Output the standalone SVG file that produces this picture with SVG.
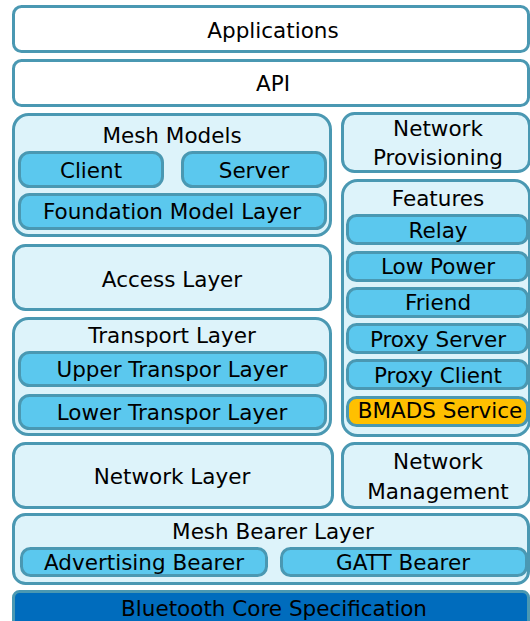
<svg xmlns="http://www.w3.org/2000/svg" width="530" height="621" viewBox="0 0 530 621">
<style>
.top{fill:#ffffff;stroke:#4a98b2;stroke-width:3}
.outer{fill:#ddf3fa;stroke:#4a98b2;stroke-width:3}
.inner{fill:#5bc8ee;stroke:#4a98b2;stroke-width:3}
.bmads{fill:#ffc000;stroke:#4a98b2;stroke-width:3}
.core{fill:#006cbd;stroke:#4a98b2;stroke-width:3}
text{font-family:"DejaVu Sans","Liberation Sans",sans-serif;font-size:21.5px;fill:#000;text-anchor:middle}
</style>
<rect width="530" height="621" fill="#ffffff"/>
<g id="applications"><rect class="top" x="13.5" y="6.5" width="515" height="45" rx="8"/><text x="273" y="38">Applications</text></g>
<g id="api"><rect class="top" x="13.5" y="60.5" width="515" height="45" rx="8"/><text x="273" y="91">API</text></g>
<g id="mesh-models"><rect class="outer" x="13.5" y="114.5" width="317" height="121" rx="15"/><text x="172" y="143">Mesh Models</text></g>
<g id="client"><rect class="inner" x="19.5" y="152.5" width="143" height="34" rx="10"/><text x="91" y="178">Client</text></g>
<g id="server"><rect class="inner" x="182.5" y="152.5" width="143" height="34" rx="10"/><text x="254" y="178">Server</text></g>
<g id="foundation"><rect class="inner" x="19.5" y="194.5" width="306" height="34" rx="10"/><text x="172" y="219">Foundation Model Layer</text></g>
<g id="access"><rect class="outer" x="13.5" y="245.5" width="317" height="64" rx="12"/><text x="172" y="287">Access Layer</text></g>
<g id="transport"><rect class="outer" x="13.5" y="318.5" width="317" height="116" rx="15"/><text x="172" y="343">Transport Layer</text></g>
<g id="upper"><rect class="inner" x="19.5" y="352.5" width="306" height="33" rx="10"/><text x="172" y="377">Upper Transpor Layer</text></g>
<g id="lower"><rect class="inner" x="19.5" y="395.5" width="306" height="33" rx="10"/><text x="172" y="420">Lower Transpor Layer</text></g>
<g id="provisioning"><rect class="outer" x="342.5" y="113.5" width="187" height="58" rx="12"/><text x="438" y="136">Network</text><text x="438" y="165">Provisioning</text></g>
<g id="features"><rect class="outer" x="342.5" y="180.5" width="187" height="255" rx="15"/><text x="438" y="206">Features</text></g>
<g id="relay"><rect class="inner" x="347.5" y="215.5" width="180" height="28" rx="9"/><text x="438" y="238">Relay</text></g>
<g id="lowpower"><rect class="inner" x="347.5" y="252.5" width="180" height="28" rx="9"/><text x="438" y="274">Low Power</text></g>
<g id="friend"><rect class="inner" x="347.5" y="288.5" width="180" height="28" rx="9"/><text x="438" y="310">Friend</text></g>
<g id="proxyserver"><rect class="inner" x="347.5" y="324.5" width="180" height="28" rx="9"/><text x="438" y="347">Proxy Server</text></g>
<g id="proxyclient"><rect class="inner" x="347.5" y="360.5" width="180" height="28" rx="9"/><text x="438" y="383">Proxy Client</text></g>
<g id="bmads"><rect class="bmads" x="347.5" y="397.5" width="180" height="28" rx="9"/><text x="440" y="418">BMADS Service</text></g>
<g id="network"><rect class="outer" x="13.5" y="443.5" width="319" height="64" rx="12"/><text x="172" y="484">Network Layer</text></g>
<g id="management"><rect class="outer" x="342.5" y="443.5" width="187" height="64" rx="12"/><text x="438" y="469">Network</text><text x="438" y="499">Management</text></g>
<g id="bearer"><rect class="outer" x="13.5" y="514.5" width="515" height="69" rx="12"/><text x="273" y="539">Mesh Bearer Layer</text></g>
<g id="advertising"><rect class="inner" x="21.5" y="548.5" width="245" height="27" rx="9"/><text x="144" y="570">Advertising Bearer</text></g>
<g id="gatt"><rect class="inner" x="281.5" y="548.5" width="245" height="27" rx="9"/><text x="403" y="570">GATT Bearer</text></g>
<g id="core"><rect class="core" x="13.5" y="591.5" width="515" height="40" rx="6"/><text x="274" y="616">Bluetooth Core Specification</text></g>
<g id="connectors"/>
</svg>
